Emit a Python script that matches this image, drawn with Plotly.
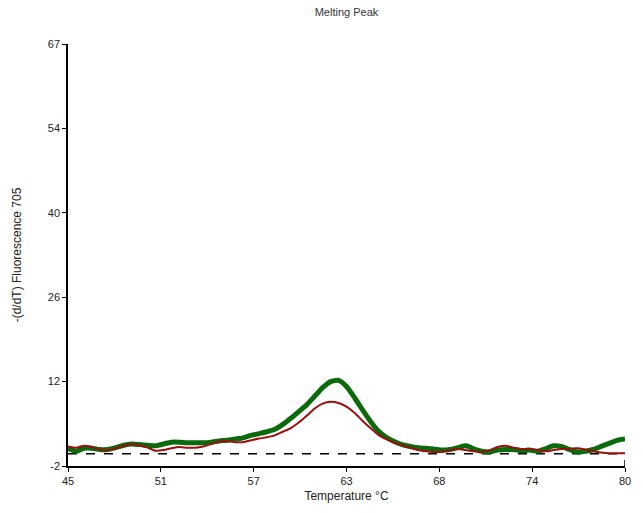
import plotly.graph_objects as go

temps = [45.0 + 0.5 * i for i in range(71)]

green_vals = [0.9, 0.4, 0.9, 0.9, 0.7, 0.7, 1.0, 1.4, 1.6, 1.5,
              1.4, 1.3, 1.6, 1.9, 1.9, 1.8, 1.8, 1.8, 1.9, 2.1,
              2.2, 2.4, 2.6, 3.0, 3.3, 3.6, 4.0, 4.8, 5.8, 6.9,
              8.0, 9.4, 10.8, 11.8, 12.0, 11.0, 9.2, 7.2, 5.3, 3.7,
              2.7, 2.0, 1.5, 1.2, 1.0, 0.9, 0.8, 0.6, 0.7, 1.0,
              1.3, 0.8, 0.4, 0.3, 0.6, 0.7, 0.7, 0.5, 0.6, 0.4,
              0.8, 1.3, 1.2, 0.7, 0.3, 0.4, 0.7, 1.2, 1.7, 2.2, 2.4]

red_vals = [1.2, 1.0, 1.3, 1.1, 0.7, 0.6, 0.9, 1.3, 1.6, 1.4,
            1.0, 0.5, 0.6, 0.9, 1.1, 1.0, 1.0, 1.2, 1.6, 2.0,
            2.1, 1.9, 1.9, 2.2, 2.5, 2.7, 3.0, 3.6, 4.2, 5.1,
            6.2, 7.4, 8.2, 8.5, 8.3, 7.7, 6.7, 5.4, 4.2, 3.1,
            2.4, 1.8, 1.4, 1.0, 0.6, 0.4, 0.3, 0.3, 0.6, 0.8,
            0.6, 0.4, 0.3, 0.6, 1.1, 1.3, 1.0, 0.8, 0.8, 0.6,
            0.4, 0.6, 0.8, 0.8, 0.9, 0.7, 0.4, 0.2, 0.1, 0.1, 0.1]

threshold = 0.0

x_min, x_max = 45.0, 80.0
y_min, y_max = -2.0, 67.0
x_tick_text = ["45", "51", "57", "63", "68", "74", "80"]
y_tick_text = ["-2", "12", "26", "40", "54", "67"]

x_tick_vals = [x_min + i * (x_max - x_min) / 6 for i in range(7)]
y_tick_vals = [y_min + i * (y_max - y_min) / 5 for i in range(6)]

fig = go.Figure()
fig.add_trace(go.Scatter(x=[x_min, x_max], y=[threshold, threshold], mode="lines",
                         line=dict(color="black", width=1.3, dash="dash"),
                         showlegend=False, hoverinfo="skip"))
fig.add_trace(go.Scatter(x=temps, y=green_vals, mode="lines",
                         line=dict(color="#0b6a0b", width=5, shape="spline", smoothing=0.6),
                         showlegend=False))
fig.add_trace(go.Scatter(x=temps, y=red_vals, mode="lines",
                         line=dict(color="#9b0f0f", width=2, shape="spline", smoothing=0.6),
                         showlegend=False))

font_family = "Liberation Sans, Arial, sans-serif"
fig.update_layout(
    width=643, height=513,
    margin=dict(l=68, r=15, t=44, b=46),
    paper_bgcolor="white", plot_bgcolor="white",
    font=dict(family=font_family, size=11, color="#222222"),
    title=dict(text="Melting Peak", x=0.5, xref="paper", y=1 - 12 / 513, yanchor="middle",
               font=dict(size=11, color="#333333")),
    xaxis=dict(range=[x_min, x_max], tickvals=x_tick_vals, ticktext=x_tick_text,
               showgrid=False, zeroline=False, showline=True, linecolor="black", linewidth=1.5,
               ticks="outside", ticklen=4, tickcolor="black",
               title=dict(text="Temperature °C", standoff=6, font=dict(size=12))),
    yaxis=dict(range=[y_min, y_max], tickvals=y_tick_vals, ticktext=y_tick_text,
               showgrid=False, zeroline=False, showline=True, linecolor="black", linewidth=1.5,
               ticks="outside", ticklen=4, tickcolor="black",
               title=dict(text="-(d/dT) Fluorescence 705", standoff=24, font=dict(size=12))),
)
fig.add_shape(type="line", xref="x", yref="y", x0=x_max, x1=x_max, y0=y_min, y1=y_min + 1.0,
              line=dict(color="black", width=1.5))

fig.write_html("out.html")
